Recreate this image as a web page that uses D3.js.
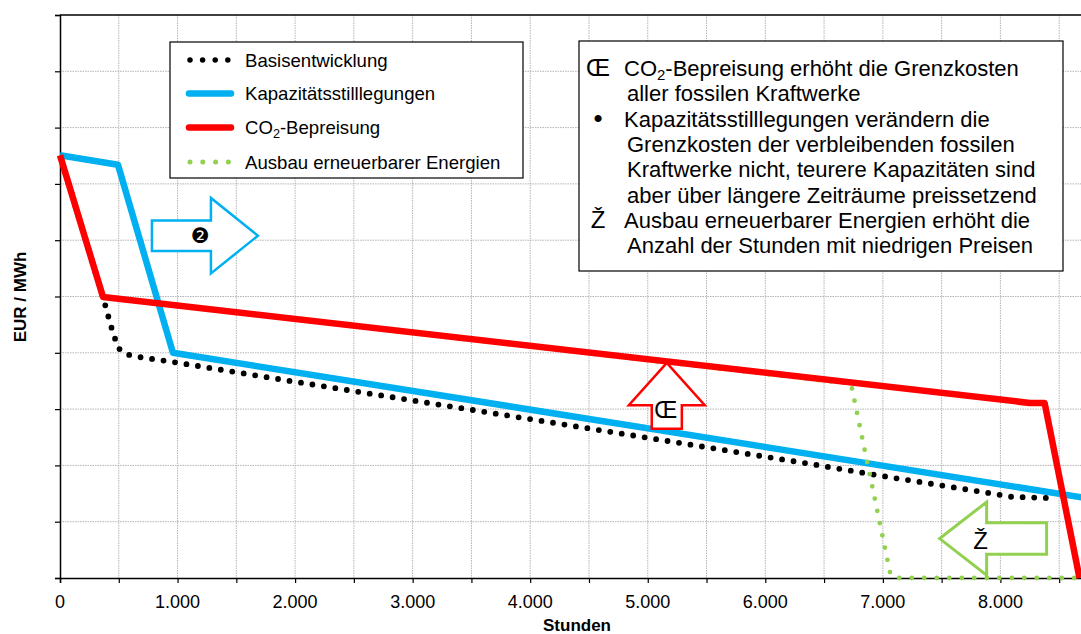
<!DOCTYPE html>
<html>
<head>
<meta charset="utf-8">
<script src="https://cdn.jsdelivr.net/npm/d3@7"></script>
<style>
  body { margin: 0; background: #fff; }
  svg { display: block; font-family: "Liberation Sans", Arial, sans-serif; }
  .grid line { stroke: #b4b4b4; stroke-width: 1; stroke-dasharray: 1.5 1; }
  .axis { stroke: #000; stroke-width: 1.5; }
  .ticklabel { font-size: 18px; fill: #000; }
  .axistitle { font-size: 17px; font-weight: bold; fill: #000; }
  .legtext { font-size: 18.6px; fill: #000; }
  .note { font-size: 22px; fill: #000; }
</style>
</head>
<body>
<svg id="chart" width="1081" height="634"></svg>
<script>
// hours of the year (x) and price level (y, no unit labels on the axis)
const basisH = [0, 366, 430, 493, 553, 655, 952, 1956, 5000, 6400, 7000, 7900, 8100, 8440];
const basisP = [7.51, 4.99, 4.5, 4.09, 3.98, 3.93, 3.84, 3.50, 2.49, 2.02, 1.81, 1.51, 1.44, 1.42];

const kapH = [0, 493, 961, 8760];
const kapP = [7.51, 7.34, 4.0, 1.41];

const co2H = [0, 366, 8248, 8376, 8673];
const co2P = [7.51, 4.99, 3.11, 3.11, 0];

const eeH = [0, 366, 6729, 7061, 7095, 8760];
const eeP = [7.51, 4.99, 3.45, 0.1, 0, 0];

const xTicks = d3.range(0, 8760, 500);
const yTicks = d3.range(0, 11, 1);

const legendLabels = ["Basisentwicklung", "Kapazitätsstilllegungen", "CO2-Bepreisung", "Ausbau erneuerbarer Energien"];

const noteLines = [
    {sym: "Œ", text: "CO2-Bepreisung erhöht die Grenzkosten"},
    {sym: "", text: "aller fossilen Kraftwerke"},
    {sym: "•", text: "Kapazitätsstilllegungen verändern die"},
    {sym: "", text: "Grenzkosten der verbleibenden fossilen"},
    {sym: "", text: "Kraftwerke nicht, teurere Kapazitäten sind"},
    {sym: "", text: "aber über längere Zeiträume preissetzend"},
    {sym: "Ž", text: "Ausbau erneuerbarer Energien erhöht die"},
    {sym: "", text: "Anzahl der Stunden mit niedrigen Preisen"}
];

// block arrows in data units
const arrowBlue = {tail: 782, headBase: 1284, tip: 1684, mid: 6.08, body: 0.27, head: 0.67, label: "❷"};
const arrowRed = {tip: 3.82, headBase: 3.07, tail: 2.65, mid: 5162, body: 128, head: 323, label: "Œ"};
const arrowGreen = {tail: 8393, headBase: 7883, tip: 7483, mid: 0.7, body: 0.28, head: 0.65, label: "Ž"};

/////////////////////////////////////////////////////////////////////

function zipSeries(hs, ps) {
    const pts = [];
    let i = 0;
    while (i < hs.length) {
        pts.push({h: hs[i], p: ps[i]});
        i++;
    }
    return pts;
};

function addLabel(sel, x, y, str, cls) {
    // text with a subscript 2 in CO2
    var t = sel.append("text").attr("x", x).attr("y", y).attr("class", cls);
    var k = str.indexOf("CO2");
    if (k < 0) {
        t.text(str);
        return t;
    }
    t.append("tspan").text(str.slice(0, k + 2));
    t.append("tspan").text("2").attr("font-size", "0.68em").attr("dy", 4);
    t.append("tspan").text(str.slice(k + 3)).attr("dy", -4);
    return t;
};

function make_chart() {
    var svg = d3.select("#chart");
    var left = 60, top = 15, bottom = 578;
    var per1000 = 117.55;

    var xScale = d3.scaleLinear([0, 8760], [left, left + 8.76 * per1000]);
    var yScale = d3.scaleLinear([0, 10], [bottom, top]);
    var W = 1081;

    // grid
    var grid = svg.append("g").attr("class", "grid");
    xTicks.filter(d => d > 0).forEach(function (d) {
        grid.append("line")
            .attr("x1", xScale(d)).attr("x2", xScale(d))
            .attr("y1", top).attr("y2", bottom);
    });
    yTicks.filter(d => d > 0 && d < 10).forEach(function (d) {
        grid.append("line")
            .attr("x1", left).attr("x2", W)
            .attr("y1", yScale(d)).attr("y2", yScale(d));
    });

    // axes
    var gx = svg.append("g")
        .attr("transform", "translate(0," + bottom + ")")
        .call(d3.axisBottom(xScale).tickValues(xTicks).tickSize(5).tickFormat(""));
    gx.select(".domain").attr("stroke-width", 1.5);
    gx.selectAll(".tick line").attr("stroke-width", 1.2);

    var gy = svg.append("g")
        .attr("transform", "translate(" + left + ",0)")
        .call(d3.axisLeft(yScale).tickValues(yTicks).tickSize(5).tickFormat(""));
    gy.select(".domain").attr("stroke-width", 1.5);
    gy.selectAll(".tick line").attr("stroke-width", 1.2);

    svg.append("line")
        .attr("x1", left).attr("x2", W)
        .attr("y1", top).attr("y2", top)
        .attr("class", "axis");

    var de = d3.formatLocale({decimal: ",", thousands: ".", grouping: [3], currency: ["", " €"]});
    var fmt = de.format(",");
    xTicks.filter(d => d % 1000 === 0).forEach(function (d) {
        svg.append("text")
            .text(fmt(d))
            .attr("x", xScale(d))
            .attr("y", 608)
            .attr("text-anchor", "middle")
            .attr("class", "ticklabel");
    });

    svg.append("text")
        .text("Stunden")
        .attr("x", 577).attr("y", 631)
        .attr("text-anchor", "middle")
        .attr("class", "axistitle");

    svg.append("text")
        .text("EUR / MWh")
        .attr("transform", "translate(26,297) rotate(-90)")
        .attr("text-anchor", "middle")
        .attr("class", "axistitle");

    // series
    var line = d3.line()
        .x(d => xScale(d.h))
        .y(d => yScale(d.p));

    var plot = svg.append("g");

    plot.append("path")
        .attr("d", line(zipSeries(kapH, kapP)))
        .attr("fill", "none").attr("stroke", "#00B0F0")
        .attr("stroke-width", 6.5).attr("stroke-linejoin", "round");

    plot.append("path")
        .attr("d", line(zipSeries(basisH, basisP)))
        .attr("fill", "none").attr("stroke", "#000")
        .attr("stroke-width", 5.8).attr("stroke-linecap", "round")
        .attr("stroke-dasharray", "0 11.6")
        .attr("stroke-dashoffset", -6);

    plot.append("path")
        .attr("d", line(zipSeries(eeH, eeP)))
        .attr("fill", "none").attr("stroke", "#92D050")
        .attr("stroke-width", 4.8).attr("stroke-linecap", "round")
        .attr("stroke-dasharray", "0 12.5")
        .attr("stroke-dashoffset", -6);

    plot.append("path")
        .attr("d", line(zipSeries(co2H, co2P)))
        .attr("fill", "none").attr("stroke", "#FF0000")
        .attr("stroke-width", 6.5).attr("stroke-linejoin", "round");

    // arrows
    var a = arrowBlue;
    var blue = [
        [a.tail, a.mid + a.body], [a.headBase, a.mid + a.body], [a.headBase, a.mid + a.head],
        [a.tip, a.mid], [a.headBase, a.mid - a.head], [a.headBase, a.mid - a.body], [a.tail, a.mid - a.body]
    ].map(d => [xScale(d[0]), yScale(d[1])]);
    svg.append("path")
        .attr("d", "M" + blue.join("L") + "Z")
        .attr("fill", "#fff").attr("stroke", "#00B0F0").attr("stroke-width", 2.5);
    svg.append("text")
        .text(a.label)
        .attr("x", xScale((a.tail + a.headBase) / 2 + 160))
        .attr("y", yScale(a.mid) + 7)
        .attr("text-anchor", "middle")
        .style("font-family", "DejaVu Sans")
        .style("font-size", "21px");

    var r = arrowRed;
    var red = [
        [r.mid - r.body, r.tail], [r.mid - r.body, r.headBase], [r.mid - r.head, r.headBase],
        [r.mid, r.tip], [r.mid + r.head, r.headBase], [r.mid + r.body, r.headBase], [r.mid + r.body, r.tail]
    ].map(d => [xScale(d[0]), yScale(d[1])]);
    svg.append("path")
        .attr("d", "M" + red.join("L") + "Z")
        .attr("fill", "#fff").attr("stroke", "#FF0000").attr("stroke-width", 2.5);
    svg.append("text")
        .text(r.label)
        .attr("x", xScale(r.mid) - 1)
        .attr("y", yScale(r.tail) - 11)
        .attr("text-anchor", "middle")
        .style("font-size", "23px");

    var g = arrowGreen;
    var green = [
        [g.tail, g.mid + g.body], [g.headBase, g.mid + g.body], [g.headBase, g.mid + g.head],
        [g.tip, g.mid], [g.headBase, g.mid - g.head], [g.headBase, g.mid - g.body], [g.tail, g.mid - g.body]
    ].map(d => [xScale(d[0]), yScale(d[1])]);
    svg.append("path")
        .attr("d", "M" + green.join("L") + "Z")
        .attr("fill", "#fff").attr("stroke", "#92D050").attr("stroke-width", 3);
    svg.append("text")
        .text(g.label)
        .attr("x", xScale(g.headBase) - 6)
        .attr("y", yScale(g.mid) + 10)
        .attr("text-anchor", "middle")
        .style("font-size", "24px");

    // legend
    var leg = svg.append("g");
    leg.append("rect")
        .attr("x", 170).attr("y", 42).attr("width", 353).attr("height", 136)
        .attr("fill", "#fff").attr("stroke", "#000").attr("stroke-width", 1.2);
    var legStyles = [
        {stroke: "#000", w: 5.5, dash: "0 12.6", cap: "round"},
        {stroke: "#00B0F0", w: 6.5, dash: null, cap: "round"},
        {stroke: "#FF0000", w: 6.5, dash: null, cap: "round"},
        {stroke: "#92D050", w: 5, dash: "0 12.8", cap: "round"}
    ];
    var rowY = [60, 93.5, 127.5, 162];
    for (let i = 0; i < legendLabels.length; i++) {
        var s = legStyles[i];
        var ln = leg.append("line")
            .attr("x1", s.dash ? 190 : 189).attr("x2", s.dash ? 229 : 231)
            .attr("y1", rowY[i]).attr("y2", rowY[i])
            .attr("stroke", s.stroke).attr("stroke-width", s.w)
            .attr("stroke-linecap", s.cap);
        if (s.dash) ln.attr("stroke-dasharray", s.dash);
        addLabel(leg, 245, rowY[i] + 6.5, legendLabels[i], "legtext");
    };

    // note box
    var note = svg.append("g");
    note.append("rect")
        .attr("x", 579).attr("y", 41).attr("width", 484).attr("height", 230)
        .attr("fill", "#fff").attr("stroke", "#000").attr("stroke-width", 1.2);
    for (let i = 0; i < noteLines.length; i++) {
        var yy = 76 + i * 25.3;
        var nl = noteLines[i];
        if (nl.sym !== "") {
            note.append("text")
                .text(nl.sym)
                .attr("x", 598)
                .attr("y", yy)
                .attr("text-anchor", "middle")
                .attr("class", "note")
                .style("font-size", nl.sym === "•" ? "26px" : "24px");
        }
        addLabel(note, nl.sym !== "" ? 624 : 627, yy, nl.text, "note");
    };
};

make_chart();
</script>
</body>
</html>
